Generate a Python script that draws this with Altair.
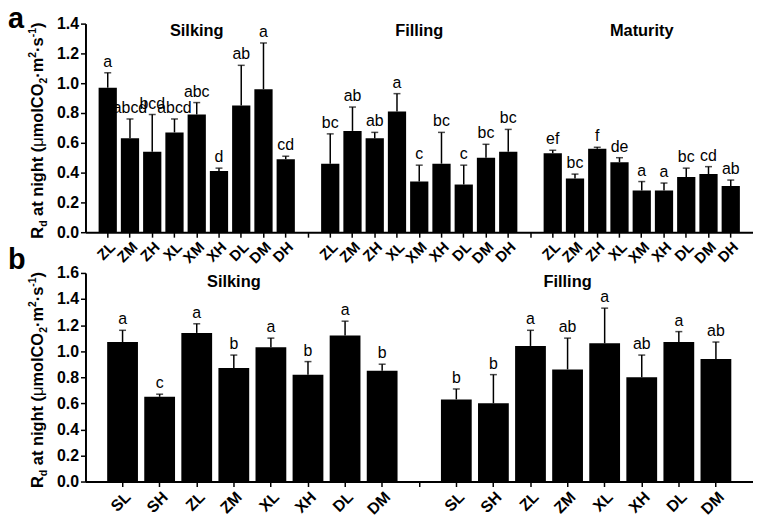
import altair as alt
import pandas as pd

FONT = "Liberation Sans"

# ---------------- data: panel a ----------------
cats_a = ["ZL", "ZM", "ZH", "XL", "XM", "XH", "DL", "DM", "DH"]
stages_a = ["Silking", "Filling", "Maturity"]
silking_a = [0.97, 0.63, 0.54, 0.67, 0.79, 0.41, 0.85, 0.96, 0.49]
silking_a_err = [0.10, 0.13, 0.25, 0.09, 0.08, 0.02, 0.27, 0.31, 0.02]
silking_a_sig = ["a", "abcd", "bcd", "abcd", "abc", "d", "ab", "a", "cd"]
filling_a = [0.46, 0.68, 0.63, 0.81, 0.34, 0.46, 0.32, 0.50, 0.54]
filling_a_err = [0.20, 0.16, 0.04, 0.12, 0.11, 0.21, 0.13, 0.09, 0.15]
filling_a_sig = ["bc", "ab", "ab", "a", "c", "bc", "c", "bc", "bc"]
maturity_a = [0.53, 0.36, 0.56, 0.47, 0.28, 0.28, 0.37, 0.39, 0.31]
maturity_a_err = [0.02, 0.03, 0.01, 0.03, 0.06, 0.05, 0.06, 0.05, 0.04]
maturity_a_sig = ["ef", "bc", "f", "de", "a", "a", "bc", "cd", "ab"]
y_ticks_a = [0.0, 0.2, 0.4, 0.6, 0.8, 1.0, 1.2, 1.4]

# ---------------- data: panel b ----------------
cats_b = ["SL", "SH", "ZL", "ZM", "XL", "XH", "DL", "DM"]
stages_b = ["Silking", "Filling"]
silking_b = [1.07, 0.65, 1.14, 0.87, 1.03, 0.82, 1.12, 0.85]
silking_b_err = [0.09, 0.02, 0.07, 0.10, 0.07, 0.10, 0.11, 0.05]
silking_b_sig = ["a", "c", "a", "b", "a", "b", "a", "b"]
filling_b = [0.63, 0.60, 1.04, 0.86, 1.06, 0.80, 1.07, 0.94]
filling_b_err = [0.08, 0.22, 0.12, 0.24, 0.27, 0.17, 0.08, 0.13]
filling_b_sig = ["b", "b", "a", "ab", "a", "ab", "a", "ab"]
y_ticks_b = [0.0, 0.2, 0.4, 0.6, 0.8, 1.0, 1.2, 1.4, 1.6]

panel_letters = ["a", "b"]

# Arial/Liberation Sans advance widths (per 1000 em) for the axis-title pieces
W_BOLD = {"R": 722, "d": 611, " ": 278, "a": 556, "t": 333, "n": 611, "i": 278,
          "g": 611, "h": 611, "(": 333, ")": 333, "m": 889, "o": 611, "l": 278,
          "C": 722, "O": 778, "2": 556, "1": 556, "-": 333, "s": 556, "·": 333}
W_REG = {"μ": 576}


def text_w(s, size, bold=True):
    tab = W_BOLD if bold else W_REG
    return sum(tab.get(c, 556) for c in s) * size / 1000.0


MAIN, SUB = 16.5, 10.5
title_pieces = [
    ("R", MAIN, True, 0), ("d", SUB, True, 4), (" at night (", MAIN, True, 0),
    ("μ", MAIN, False, 0), ("molCO", MAIN, True, 0), ("2", SUB, True, 4),
    ("·m", MAIN, True, 0), ("2", SUB, True, -7), ("·s", MAIN, True, 0),
    ("-1", SUB, True, -7), (")", MAIN, True, 0),
]


def title_layers(h):
    layers = []
    cum = 0.0
    for txt, size, bold, dy in title_pieces:
        stripped = txt.lstrip(" ")
        lead = text_w(txt[: len(txt) - len(stripped)], size, bold)
        layers.append(
            alt.Chart(pd.DataFrame({"t": [stripped]}))
            .mark_text(angle=270, align="left", baseline="alphabetic",
                       dx=cum + lead, dy=dy, fontSize=size,
                       fontWeight="bold" if bold else "normal",
                       font=FONT, color="black")
            .encode(x=alt.value(-43), y=alt.value(h + 6.5), text="t:N")
        )
        cum += text_w(txt, size, bold)
    return layers


def make_panel(stages, cats, vals, errs, sigs, yticks, title_cat, letter,
               width, height, pad_inner, xfs, sigfs, title_y, letter_y):
    prefixes = [s[0] for s in stages]
    domain = []
    rows = []
    for gi, (pre, v, e, s) in enumerate(zip(prefixes, vals, errs, sigs)):
        if gi > 0:
            domain.append(f"gap{gi}")
        for c, vv, ee, ss in zip(cats, v, e, s):
            key = f"{pre}|{c}"
            domain.append(key)
            rows.append({"key": key, "value": vv, "err": ee, "sig": ss})
    df = pd.DataFrame(rows)
    pad_outer = 0.5 + pad_inner / 2
    xscale = alt.Scale(domain=domain, paddingInner=pad_inner, paddingOuter=pad_outer)
    yscale = alt.Scale(domain=[yticks[0], yticks[-1]], nice=False)
    xaxis = alt.Axis(
        title=None, labelAngle=-45, labelFontSize=xfs, labelOverlap=False,
        bandPosition=0.5,
        labelExpr="indexof(datum.value, '|') < 0 ? '' : split(datum.value, '|')[1]",
    )
    yaxis = alt.Axis(title=None, values=yticks, tickCount=len(yticks),
                     format=".1f", labelFontSize=16,
                     labelOverlap=False, labelFlush=False)
    xenc = alt.X("key:N", scale=xscale, axis=xaxis)
    base = alt.Chart(df).transform_calculate(top="datum.value + datum.err")
    bars = base.mark_bar(color="black").encode(
        x=xenc, y=alt.Y("value:Q", scale=yscale, axis=yaxis))
    rules = base.mark_rule(color="black", strokeWidth=1.5).encode(
        x=xenc, y=alt.Y("value:Q", scale=yscale, axis=yaxis), y2="top:Q")
    caps = base.mark_tick(color="black", thickness=1.5, size=7).encode(
        x=xenc, y=alt.Y("top:Q", scale=yscale, axis=yaxis))
    sig = base.mark_text(baseline="bottom", dy=-3, fontSize=sigfs, font=FONT,
                         color="black").encode(
        x=xenc, y=alt.Y("top:Q", scale=yscale, axis=yaxis), text="sig:N")
    tdf = pd.DataFrame({"key": [f"{p}|{title_cat}" for p in prefixes], "name": stages})
    gtitles = alt.Chart(tdf).mark_text(fontSize=16.5, fontWeight="bold", font=FONT,
                                       baseline="middle", color="black").encode(
        x=xenc, y=alt.value(title_y), text="name:N")
    let = alt.Chart(pd.DataFrame({"t": [letter]})).mark_text(
        fontSize=29, fontWeight="bold", font=FONT, align="left",
        baseline="alphabetic", color="black").encode(
        x=alt.value(-78), y=alt.value(letter_y), text="t:N")
    return alt.layer(bars, rules, caps, sig, gtitles, let, *title_layers(height)).properties(
        width=width, height=height)


panel_a = make_panel(stages_a, cats_a,
                     [silking_a, filling_a, maturity_a],
                     [silking_a_err, filling_a_err, maturity_a_err],
                     [silking_a_sig, filling_a_sig, maturity_a_sig],
                     y_ticks_a, "XM", panel_letters[0], 672, 210, 0.18, 15, 16, 7, 4.7)
panel_b = make_panel(stages_b, cats_b,
                     [silking_b, filling_b],
                     [silking_b_err, filling_b_err],
                     [silking_b_sig, filling_b_sig],
                     y_ticks_b, "ZM", panel_letters[1], 672, 210, 0.17, 16, 16, 9, -4)

chart = (
    alt.vconcat(panel_a, panel_b, spacing=41, bounds="flush")
    .properties(padding={"top": -5, "left": 0, "right": 0, "bottom": 0})
    .configure_view(stroke=None)
    .configure_axis(domainColor="black", domainWidth=2, tickColor="black",
                    tickWidth=1.5, tickSize=5, labelColor="black", labelFont=FONT,
                    labelFontWeight="bold", grid=False, labelPadding=2)
)

chart.save("out.html", embed_options={"renderer": "svg", "actions": False})
